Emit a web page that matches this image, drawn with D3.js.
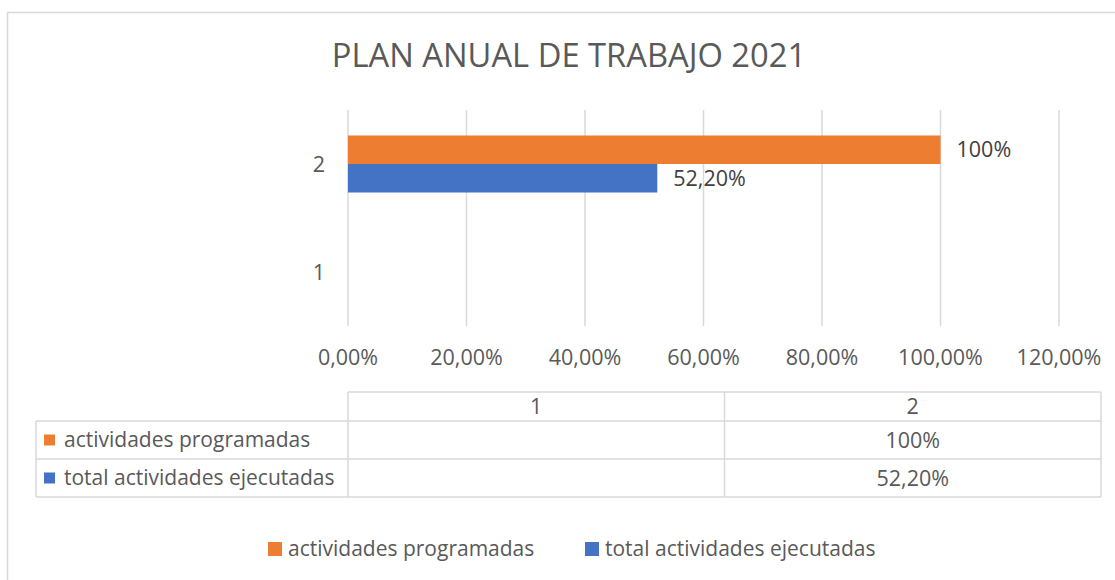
<!DOCTYPE html>
<html>
<head>
<meta charset="utf-8">
<script src="https://cdn.jsdelivr.net/npm/d3@7"></script>
<style>
  body { margin: 0; background: #fff; }
  text { font-family: "Open Sans", sans-serif; }
</style>
</head>
<body>
<div class="chart"></div>
<script>
// values
const categories = ["1", "2"]
const seriesNames = ["actividades programadas", "total actividades ejecutadas"]
const programadas = [null, 1.0]
const ejecutadas = [null, 0.522]
const xTicks = [0, 0.2, 0.4, 0.6, 0.8, 1.0, 1.2]
const titleText = "PLAN ANUAL DE TRABAJO 2021"

const colors = ["#ED7D31", "#4472C4"]
const grey = "#d9d9d9"

const svgWidth = 1115
const svgHeight = 580

let es = d3.formatLocale({ decimal: ",", thousands: ".", grouping: [3], currency: ["", "€"] })
let tickFmt = es.format(".2%")
let labelFmts = [es.format(".0%"), es.format(".2%")]

let series = seriesNames.map((name, i) => ({
	name: name,
	color: colors[i],
	fmt: labelFmts[i],
	values: [programadas, ejecutadas][i]
}))

let svg = d3.select(".chart")
	.append("svg")
	.attr("width", svgWidth)
	.attr("height", svgHeight)

svg.append("rect")
	.attr("width", svgWidth).attr("height", svgHeight)
	.attr("fill", "#fff")

// chart area border (runs off the right and bottom of the picture)
svg.append("rect")
	.attr("x", 7.5).attr("y", 12.5)
	.attr("width", 1130).attr("height", 600)
	.attr("fill", "none")
	.attr("stroke", grey)
	.attr("stroke-width", 1.5)

svg.append("text")
	.attr("x", 569).attr("y", 67)
	.attr("text-anchor", "middle")
	.attr("font-size", 32.7)
	.attr("fill", "#595959")
	.text(titleText)

let x = d3.scaleLinear().domain([0, 1.2]).range([348, 1059])
let y = d3.scaleBand()
	.domain(categories.slice().reverse())
	.range([110, 326])
	.paddingInner(0.472)
	.paddingOuter(0.236)
let ySub = d3.scaleBand().domain([0, 1]).range([0, y.bandwidth()])

// gridlines
svg.append("g").selectAll("line")
	.data(xTicks)
	.enter()
	.append("line")
	.attr("x1", d => x(d)).attr("x2", d => x(d))
	.attr("y1", 110).attr("y2", 326)
	.attr("stroke", grey)
	.attr("stroke-width", 1.5)

// x tick labels
svg.append("g").selectAll("text")
	.data(xTicks)
	.enter()
	.append("text")
	.attr("x", d => x(d))
	.attr("y", 357)
	.attr("dy", "0.35em")
	.attr("text-anchor", "middle")
	.attr("font-size", 21.5)
	.attr("fill", "#595959")
	.text(d => tickFmt(d))

// category labels
svg.append("g").selectAll("text")
	.data(categories)
	.enter()
	.append("text")
	.attr("x", 325)
	.attr("y", d => y(d) + y.bandwidth() / 2)
	.attr("dy", "0.35em")
	.attr("text-anchor", "end")
	.attr("font-size", 21.5)
	.attr("fill", "#595959")
	.text(d => d)

// bars + data labels
series.forEach((s, si) => {
	let pts = categories.map((c, ci) => ({ c: c, v: s.values[ci] })).filter(d => d.v != null)
	let g = svg.append("g")
	g.selectAll("rect")
		.data(pts)
		.enter()
		.append("rect")
		.attr("x", x(0))
		.attr("y", d => y(d.c) + ySub(si))
		.attr("width", d => x(d.v) - x(0))
		.attr("height", ySub.bandwidth())
		.attr("fill", s.color)
	g.selectAll("text")
		.data(pts)
		.enter()
		.append("text")
		.attr("x", d => x(d.v) + 16)
		.attr("y", d => y(d.c) + ySub(si) + ySub.bandwidth() / 2)
		.attr("dy", "0.35em")
		.attr("font-size", 21.5)
		.attr("fill", "#404040")
		.text(d => s.fmt(d.v))
})

// data table
let tCol = d3.scaleBand().domain(categories).range([348, 1101])
let rowTops = [392, 421, 459, 497]
let table = svg.append("g").attr("stroke", grey).attr("stroke-width", 1.5)
table.append("line").attr("x1", 348).attr("x2", 1101).attr("y1", rowTops[0]).attr("y2", rowTops[0])
rowTops.slice(1).forEach(t => {
	table.append("line").attr("x1", 36).attr("x2", 1101).attr("y1", t).attr("y2", t)
})
table.append("line").attr("x1", 36).attr("x2", 36).attr("y1", rowTops[1]).attr("y2", rowTops[3])
categories.forEach(c => {
	table.append("line").attr("x1", tCol(c)).attr("x2", tCol(c)).attr("y1", rowTops[0]).attr("y2", rowTops[3])
})
table.append("line").attr("x1", 1101).attr("x2", 1101).attr("y1", rowTops[0]).attr("y2", rowTops[3])

svg.append("g").selectAll("text")
	.data(categories)
	.enter()
	.append("text")
	.attr("x", d => tCol(d) + tCol.bandwidth() / 2)
	.attr("y", (rowTops[0] + rowTops[1]) / 2)
	.attr("dy", "0.35em")
	.attr("text-anchor", "middle")
	.attr("font-size", 21.5)
	.attr("fill", "#595959")
	.text(d => d)

series.forEach((s, si) => {
	let cy = (rowTops[si + 1] + rowTops[si + 2]) / 2
	let row = svg.append("g")
	row.append("rect")
		.attr("x", 44).attr("y", cy - 5.5)
		.attr("width", 11).attr("height", 11)
		.attr("fill", s.color)
	row.append("text")
		.attr("x", 64).attr("y", cy)
		.attr("dy", "0.35em")
		.attr("font-size", 21)
		.attr("fill", "#595959")
		.text(s.name)
	row.selectAll(".val")
		.data(categories.map((c, ci) => ({ c: c, v: s.values[ci] })).filter(d => d.v != null))
		.enter()
		.append("text")
		.attr("class", "val")
		.attr("x", d => tCol(d.c) + tCol.bandwidth() / 2)
		.attr("y", cy)
		.attr("dy", "0.35em")
		.attr("text-anchor", "middle")
		.attr("font-size", 21.5)
		.attr("fill", "#595959")
		.text(d => s.fmt(d.v))
})

// legend
let legendX = [268, 585]
let legend = svg.append("g").selectAll("g")
	.data(series)
	.enter()
	.append("g")
	.attr("transform", (d, i) => `translate(${legendX[i]}, 549)`)
legend.append("rect")
	.attr("x", 0).attr("y", -7)
	.attr("width", 14).attr("height", 14)
	.attr("fill", d => d.color)
legend.append("text")
	.attr("x", 20).attr("y", 0)
	.attr("dy", "0.35em")
	.attr("font-size", 21)
	.attr("fill", "#595959")
	.text(d => d.name)
</script>
</body>
</html>
